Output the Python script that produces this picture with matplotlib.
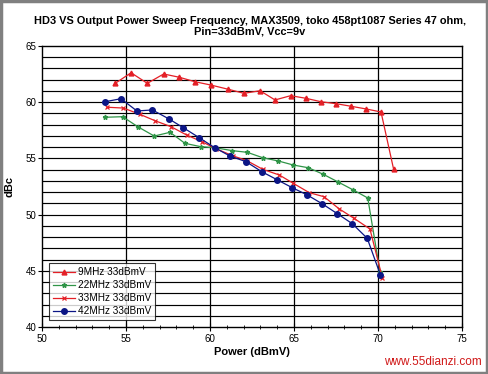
import matplotlib
matplotlib.use("Agg")
import matplotlib.pyplot as plt
from matplotlib.patches import Rectangle

plt.rcParams['font.family'] = ['Liberation Sans', 'DejaVu Sans']

# ---- data ----
x_9 = [54.36, 55.30, 56.27, 57.24, 58.17, 59.11, 60.04, 61.09, 62.02, 62.98, 63.87,
       64.80, 65.70, 66.61, 67.50, 68.39, 69.29, 70.18, 70.93]
y_9 = [61.68, 62.62, 61.68, 62.51, 62.22, 61.82, 61.53, 61.15, 60.79, 61.02, 60.20,
       60.58, 60.35, 60.04, 59.87, 59.64, 59.40, 59.13, 54.03]

x_22 = [53.77, 54.80, 55.70, 56.68, 57.62, 58.51, 59.46, 60.30, 61.33, 62.22, 63.14,
        64.07, 64.96, 65.85, 66.71, 67.59, 68.53, 69.39, 70.12]
y_22 = [58.66, 58.71, 57.82, 56.99, 57.32, 56.34, 56.04, 55.95, 55.69, 55.54, 55.06,
        54.77, 54.41, 54.17, 53.61, 52.93, 52.19, 51.48, 44.92]

x_33 = [53.89, 54.84, 55.83, 56.73, 57.68, 58.61, 59.51, 60.36, 61.39, 62.18, 63.14,
        64.13, 64.96, 65.91, 66.79, 67.68, 68.57, 69.52, 70.26]
y_33 = [59.55, 59.48, 58.92, 58.35, 57.82, 57.08, 56.49, 55.86, 55.21, 54.81, 54.03,
        53.52, 52.78, 51.95, 51.59, 50.52, 49.67, 48.72, 44.36]

x_42 = [53.75, 54.70, 55.65, 56.57, 57.56, 58.41, 59.36, 60.28, 61.19, 62.14, 63.08,
        63.97, 64.90, 65.76, 66.67, 67.58, 68.47, 69.36, 70.14]
y_42 = [60.04, 60.31, 59.22, 59.31, 58.51, 57.73, 56.84, 55.95, 55.21, 54.71, 53.82,
        53.12, 52.39, 51.77, 50.97, 50.08, 49.19, 47.89, 44.65]

labels = ["9MHz 33dBmV", "22MHz 33dBmV", "33MHz 33dBmV", "42MHz 33dBmV"]
x_ticks = [50, 55, 60, 65, 70, 75]
y_ticks = [40, 45, 50, 55, 60, 65]

title = "HD3 VS Output Power Sweep Frequency, MAX3509, toko 458pt1087 Series 47 ohm,\nPin=33dBmV, Vcc=9v"

# ---- figure ----
fig = plt.figure(figsize=(4.88, 3.74), dpi=100)
ax = fig.add_axes([42/488, 1-327/374, 420/488, 281/374])

red = '#e41f26'
green = '#2f9447'
navy = '#0b1585'

# grid
for yv in range(41, 65):
    ax.axhline(yv, color='black', lw=0.85, zorder=1)
for xv in [55, 60, 65, 70]:
    ax.axvline(xv, color='black', lw=0.9, zorder=1)

ax.plot(x_9, y_9, color=red, lw=0.9, marker='^', ms=3.5, label=labels[0], zorder=3)
ax.plot(x_22, y_22, color=green, lw=0.9, marker='*', ms=3.5, label=labels[1], zorder=3)
ax.plot(x_33, y_33, color=red, lw=0.9, marker='x', ms=3.5, mew=0.9, label=labels[2], zorder=3)
ax.plot(x_42, y_42, color=navy, lw=0.9, marker='o', ms=4, label=labels[3], zorder=3)

ax.set_xlim(50, 75)
ax.set_ylim(40, 65)
ax.set_xticks(x_ticks)
ax.set_yticks(y_ticks)
ax.set_xticks(range(50, 76), minor=True)
ax.tick_params(axis='x', which='both', direction='inout', labelsize=7, pad=2)
ax.tick_params(axis='x', which='major', length=6)
ax.tick_params(axis='x', which='minor', length=3)
ax.tick_params(axis='y', direction='out', labelsize=7, length=3, pad=1)
for s in ax.spines.values():
    s.set_linewidth(1.0)

ax.set_xlabel("Power (dBmV)", fontsize=8, fontweight='bold', labelpad=2)
ax.set_ylabel("dBc", fontsize=8, fontweight='bold', labelpad=8)

leg = ax.legend(loc='lower left', bbox_to_anchor=(7/420, 7/281), fontsize=7.2,
                frameon=True, fancybox=False, edgecolor='black', handlelength=2.2,
                borderpad=0.4, labelspacing=0.3, handletextpad=0.3, borderaxespad=0)
leg.get_frame().set_linewidth(0.8)
leg.set_zorder(5)

fig.text(250/488, 1-26/374, title, ha='center', va='center', fontsize=7.9,
         fontweight='bold', linespacing=1.1)

fig.text(482/488, 1-362/374, "www.55dianzi.com", ha='right', va='center',
         fontsize=8.5, color='#d01818')

# outer grey frame
fig.patches.append(Rectangle((0.003, 0.004), 0.994, 0.992, transform=fig.transFigure,
                             fill=False, edgecolor='#808080', lw=2.5))

fig.savefig("out.png", dpi=100)
